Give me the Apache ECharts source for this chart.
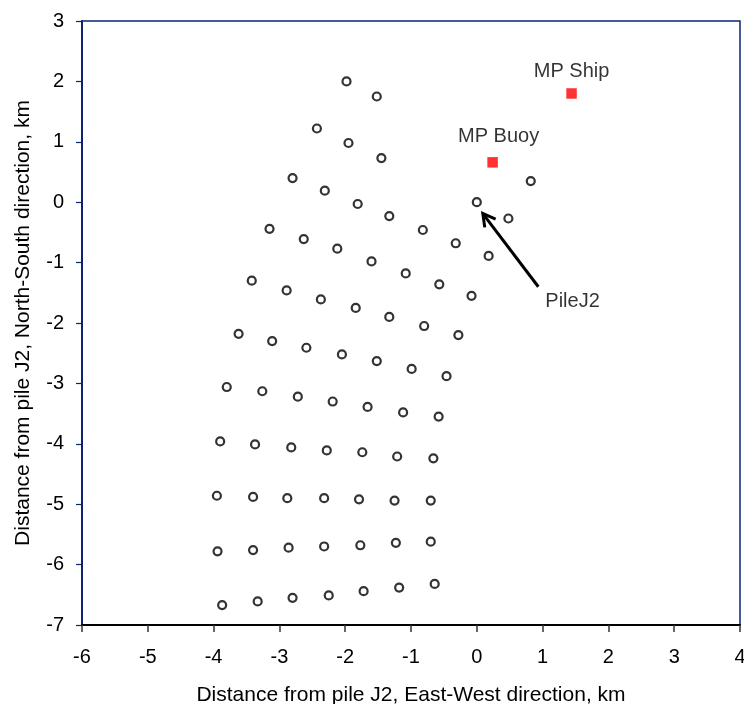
<!DOCTYPE html>
<html>
<head>
<meta charset="utf-8">
<title>Pile layout around J2</title>
<script src="https://cdn.jsdelivr.net/npm/echarts@6/dist/echarts.min.js"></script>
<style>
  html, body { margin: 0; padding: 0; background: #ffffff; }
  #chart { width: 744px; height: 704px; }
</style>
</head>
<body>
<div id="chart"></div>
<script>
// Pile positions relative to pile J2 (km): east-west and north-south offsets
const pileEW = [
  -1.98, -1.52,
  -2.43, -1.95, -1.45,
  -2.80, -2.31, -1.81, -1.33, -0.82, -0.32, 0.18,
  -3.15, -2.63, -2.12, -1.60, -1.08, -0.57, -0.08,
  -3.42, -2.89, -2.37, -1.84, -1.33, -0.80, -0.28,
  -3.62, -3.11, -2.59, -2.05, -1.52, -0.99, -0.46,
  -3.80, -3.26, -2.72, -2.19, -1.66, -1.12, -0.58,
  -3.90, -3.37, -2.82, -2.28, -1.74, -1.21, -0.66,
  -3.95, -3.40, -2.88, -2.32, -1.79, -1.25, -0.70,
  -3.94, -3.40, -2.86, -2.32, -1.77, -1.23, -0.70,
  -3.87, -3.33, -2.80, -2.25, -1.72, -1.18, -0.64,
  0.00, 0.48, 0.82
];
const pileNS = [
  2.00, 1.75,
  1.22, 0.98, 0.73,
  0.40, 0.19, -0.03, -0.23, -0.46, -0.68, -0.89,
  -0.44, -0.61, -0.77, -0.98, -1.18, -1.36, -1.55,
  -1.30, -1.46, -1.61, -1.75, -1.90, -2.05, -2.20,
  -2.18, -2.30, -2.41, -2.52, -2.63, -2.76, -2.88,
  -3.06, -3.13, -3.22, -3.30, -3.39, -3.48, -3.55,
  -3.96, -4.01, -4.06, -4.11, -4.14, -4.21, -4.24,
  -4.86, -4.88, -4.90, -4.90, -4.92, -4.94, -4.94,
  -5.78, -5.76, -5.72, -5.70, -5.68, -5.64, -5.62,
  -6.67, -6.61, -6.55, -6.51, -6.44, -6.38, -6.32,
  0.00, -0.27, 0.35
];

// Measurement platforms
const platformNames = ['MP Ship', 'MP Buoy'];
const platformEW = [1.44, 0.24];
const platformNS = [1.80, 0.66];

// Callout arrow pointing at pile J2 (tail, then head)
const calloutText = 'PileJ2';
const calloutTail = [0.935, -1.40];
const calloutHead = [0.091, -0.187];

// Axis ranges and tick spacing
const xRange = [-6, 4];
const yRange = [-7, 3];
const tickStep = 1;

const FONT = 'Arial, "Liberation Sans", Helvetica, sans-serif';
const NAVY = '#0a2470';

const chart = echarts.init(document.getElementById('chart'), null, { renderer: 'canvas' });

const pileData = pileEW.map((x, i) => [x, pileNS[i]]);

const platformLabelStyle = [
  { offset: [0, -1], distance: 6 },
  { offset: [6, -5], distance: 6 }
];
const platformData = platformNames.map((name, i) => ({
  name: name,
  value: [platformEW[i], platformNS[i]],
  label: {
    show: true,
    position: 'top',
    distance: platformLabelStyle[i].distance,
    offset: platformLabelStyle[i].offset,
    formatter: '{b}',
    color: '#000',
    fontSize: 20,
    fontFamily: FONT
  }
}));

function renderArrow(params, api) {
  const tail = api.coord([api.value(0), api.value(1)]);
  const head = api.coord([api.value(2), api.value(3)]);
  const ang = Math.atan2(head[1] - tail[1], head[0] - tail[0]);
  const arm = 14;
  const spread = Math.PI / 6.2;
  const a1 = [head[0] - arm * Math.cos(ang - spread), head[1] - arm * Math.sin(ang - spread)];
  const a2 = [head[0] - arm * Math.cos(ang + spread), head[1] - arm * Math.sin(ang + spread)];
  const style = { stroke: '#000', lineWidth: 3, fill: null, lineJoin: 'miter', lineCap: 'butt' };
  return {
    type: 'group',
    children: [
      { type: 'line', shape: { x1: tail[0], y1: tail[1], x2: head[0] - Math.cos(ang), y2: head[1] - Math.sin(ang) }, style: style },
      { type: 'polyline', shape: { points: [a1, head, a2] }, style: style }
    ]
  };
}

const option = {
  backgroundColor: '#ffffff',
  animation: false,
  grid: {
    left: 82,
    top: 21,
    width: 658,
    height: 604,
    outerBoundsMode: 'none',
    containLabel: false,
    show: true,
    borderColor: NAVY,
    borderWidth: 1.5,
    backgroundColor: 'transparent'
  },
  xAxis: {
    type: 'value',
    min: xRange[0],
    max: xRange[1],
    interval: tickStep,
    name: 'Distance from pile J2, East-West direction, km',
    nameLocation: 'middle',
    nameGap: 60,
    nameTextStyle: { color: '#000', fontSize: 21, fontFamily: FONT },
    axisLine: { show: true, onZero: false, lineStyle: { color: '#000', width: 2 } },
    axisTick: { show: true, inside: false, length: 7, lineStyle: { color: '#333', width: 1.5 } },
    axisLabel: { color: '#000', fontSize: 20, fontFamily: FONT, margin: 22, hideOverlap: false },
    splitLine: { show: false }
  },
  yAxis: {
    type: 'value',
    min: yRange[0],
    max: yRange[1],
    interval: tickStep,
    name: 'Distance from pile J2, North-South direction, km',
    nameLocation: 'middle',
    nameRotate: 90,
    nameGap: 48,
    nameTextStyle: { color: '#000', fontSize: 21, fontFamily: FONT },
    axisLine: { show: true, onZero: false, lineStyle: { color: NAVY, width: 2 } },
    axisTick: { show: true, inside: false, length: 6, lineStyle: { color: NAVY, width: 1.2 } },
    axisLabel: { color: '#000', fontSize: 20, fontFamily: FONT, margin: 18 },
    splitLine: { show: false }
  },
  series: [
    {
      name: 'Piles',
      type: 'scatter',
      data: pileData,
      symbol: 'circle',
      symbolSize: 8,
      itemStyle: { color: '#ffffff', borderColor: '#000000', borderWidth: 2.2 },
      silent: true,
      z: 3
    },
    {
      name: 'Platforms',
      type: 'scatter',
      data: platformData,
      symbol: 'rect',
      symbolSize: 10.5,
      itemStyle: { color: '#ff0000' },
      silent: true,
      z: 4
    },
    {
      name: 'Callout arrow',
      type: 'custom',
      renderItem: renderArrow,
      data: [[calloutTail[0], calloutTail[1], calloutHead[0], calloutHead[1]]],
      encode: { x: [0, 2], y: [1, 3] },
      silent: true,
      clip: false,
      z: 5
    },
    {
      name: 'Callout text',
      type: 'scatter',
      data: [{ name: calloutText, value: calloutTail }],
      symbolSize: 0,
      label: {
        show: true,
        position: 'right',
        distance: 7,
        offset: [0, 15],
        formatter: '{b}',
        color: '#000',
        fontSize: 20,
        fontFamily: FONT
      },
      silent: true,
      z: 5
    }
  ]
};

chart.setOption(option);
</script>
</body>
</html>
